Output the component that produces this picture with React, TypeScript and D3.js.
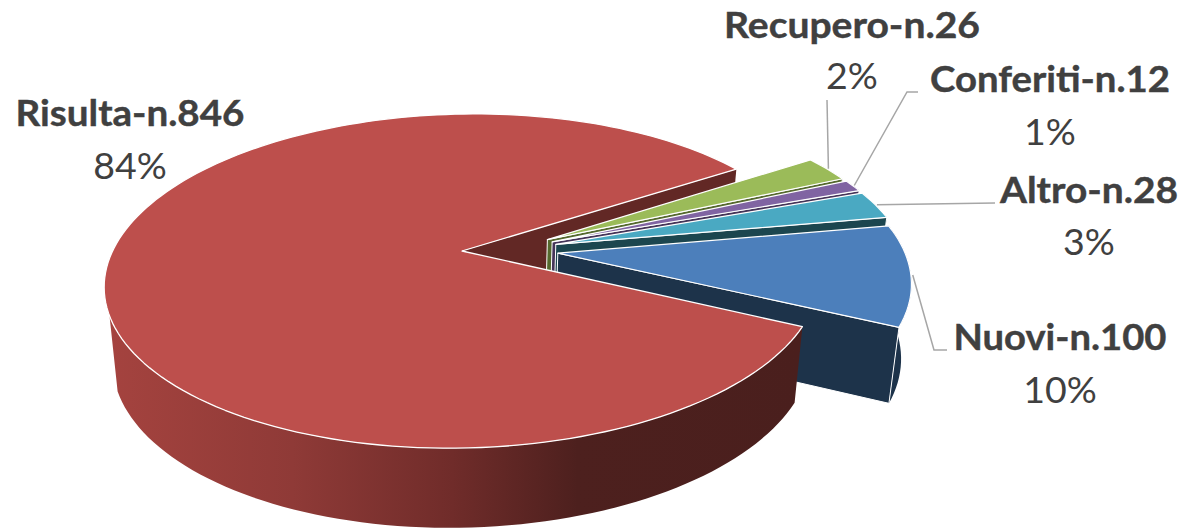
import React from "react";
import * as d3 from "d3";

// Waste-stream counts shown on the exploded 3D pie
const categories = ["Recupero", "Conferiti", "Altro", "Nuovi", "Risulta"];
const counts = [26, 12, 28, 100, 846];
const percentLabels = ["2%", "1%", "3%", "10%", "84%"];
const topColors = ["#9BBB59", "#8064A2", "#4AA9C2", "#4C7FBB", "#BD4F4C"];
const faceColors = ["#55692E", "#453458", "#1C464F", "#1D334A", "#622825"];

// Label anchors: centre x, name baseline, percent baseline, name width
const labelX = [852, 1050, 1089, 1060, 130];
const nameY = [38, 92, 203, 350, 126];
const percentY = [89, 145, 255, 403, 179];
const nameWidth = [256, 240, 178, 213, 229];

// Perspective of the disc
const W = 1184, H = 529;
const apexX = 462, apexY = 251;
const scaleU = 352, scaleV = 161.6, persp = 0.18, shear = -6;
const depthY = 73.7, baseScaleX = 0.977, baseScaleY = 1.03;
const sliceRadius = [0.995, 0.99, 0.985, 0.975, 1];
const explode = 0.275, explodeVFactor = 0.5;
const firstAngle = (58.5 * Math.PI) / 180;
// The rim wall of the large slice stops at this bearing, on the left of the disc
const wallEndAngle = (250 * Math.PI) / 180;

type Pt = [number, number];

function project(u: number, v: number, lower: boolean): Pt {
  const w = 1 - persp * v;
  const px = u / w, py = v / w;
  let X = apexX + scaleU * px;
  let Y = apexY + scaleV * py + shear * px;
  if (lower) {
    X = apexX + (X - apexX) * baseScaleX;
    Y = apexY + depthY + (Y - apexY) * baseScaleY;
  }
  return [X, Y];
}

const pie = d3.pie<number>().sort(null).startAngle(firstAngle).endAngle(firstAngle + 2 * Math.PI);
const arcs = pie(counts);

const toPath = d3.line<Pt>();

function sweep(start: number, end: number): number[] {
  const steps = Math.max(3, Math.ceil((end - start) / 0.03));
  return d3.range(steps + 1).map((i) => start + ((end - start) * i) / steps);
}

function geometry(start: number, end: number, radius: number, exploded: boolean) {
  const mid = (start + end) / 2;
  const ou = exploded ? explode * Math.sin(mid) : 0;
  const ov = exploded ? -explode * Math.cos(mid) * explodeVFactor : 0;
  const at = (a: number, lower: boolean, rad = radius) =>
    project(ou + rad * Math.sin(a), ov - rad * Math.cos(a), lower);
  return { at, angles: sweep(start, end), apexTop: project(ou, ov, false), apexLow: project(ou, ov, true), mid };
}

const line = (pts: Pt[]) => toPath(pts) + "Z";

function wall(angles: number[], at: (a: number, l: boolean) => Pt): string {
  return line([...angles.map((a) => at(a, false)), ...[...angles].reverse().map((a) => at(a, true))]);
}

// Leader lines run from the label's elbow to the rim of each small slice
const leaderElbows: Pt[][] = [
  [[827, 100], [827, 100]],
  [[918, 92], [907, 92]],
  [[995, 203], [995, 203]],
  [[947, 350], [934, 350]],
];

export default function App() {
  const red = arcs[4];
  const redGeo = geometry(red.startAngle, red.endAngle, sliceRadius[4], false);
  const cutTop = redGeo.at(red.endAngle, false);
  const cutLow = redGeo.at(red.endAngle, true);

  return (
    <svg
      width={W}
      height={H}
      viewBox={`0 0 ${W} ${H}`}
      style={{ position: "absolute", left: 0, top: 0, background: "#fff" }}
    >
      <defs>
        <linearGradient id="redSide" gradientUnits="userSpaceOnUse" x1={105} x2={800} y1={0} y2={0}>
          <stop offset="0" stopColor="#A5433F" />
          <stop offset="0.27" stopColor="#8F3A37" />
          <stop offset="0.5" stopColor="#702C2A" />
          <stop offset="0.68" stopColor="#4D201E" />
          <stop offset="1" stopColor="#4A1F1D" />
        </linearGradient>
      </defs>

      {/* back cut face of the large slice, seen through the gap */}
      <path d={line([redGeo.apexTop, cutTop, cutLow, redGeo.apexLow])} fill={faceColors[4]} />

      {/* exploded slices, back to front */}
      {arcs.slice(0, 4).map((d, i) => {
        const g = geometry(d.startAngle, d.endAngle, sliceRadius[i], true);
        const rim = g.angles.map((a) => g.at(a, false));
        return (
          <g key={categories[i]}>
            <path d={wall(g.angles, g.at)} fill={faceColors[i]} />
            <path
              d={line([g.apexTop, g.at(d.endAngle, false), g.at(d.endAngle, true), g.apexLow])}
              fill={faceColors[i]}
              stroke="#fff"
              strokeWidth={1}
            />
            <path
              d={line([g.apexTop, ...rim])}
              fill={topColors[i]}
              stroke="#fff"
              strokeWidth={1.2}
              strokeLinejoin="round"
            />
          </g>
        );
      })}

      {/* large slice: rim wall, then its top */}
      <path d={wall(sweep(red.startAngle, wallEndAngle), redGeo.at)} fill="url(#redSide)" />
      <path
        d={line([redGeo.apexTop, ...redGeo.angles.map((a) => redGeo.at(a, false))])}
        fill={topColors[4]}
        stroke="#fff"
        strokeWidth={1.3}
        strokeLinejoin="round"
      />

      {/* leader lines */}
      {arcs.slice(0, 4).map((d, i) => {
        const g = geometry(d.startAngle, d.endAngle, sliceRadius[i], true);
        const rimPoint = g.at(g.mid, false, sliceRadius[i] + 0.005);
        const pts: Pt[] = [...leaderElbows[i], rimPoint];
        return (
          <path key={i} d={toPath(pts) ?? ""} fill="none" stroke="#A6A6A6" strokeWidth={1.5} />
        );
      })}

      {/* labels */}
      <g fontFamily="Lato, 'Open Sans', sans-serif" fill="#404040" textAnchor="middle">
        {categories.map((c, i) => (
          <g key={c}>
            <text
              x={labelX[i]}
              y={nameY[i]}
              fontSize={35.5}
              fontWeight={700}
              textLength={nameWidth[i]}
              lengthAdjust="spacingAndGlyphs"
              stroke="#404040"
              strokeWidth={0.4}
            >
              {`${c}-n.${counts[i]}`}
            </text>
            <text x={labelX[i]} y={percentY[i]} fontSize={37.5}>
              {percentLabels[i]}
            </text>
          </g>
        ))}
      </g>
    </svg>
  );
}
